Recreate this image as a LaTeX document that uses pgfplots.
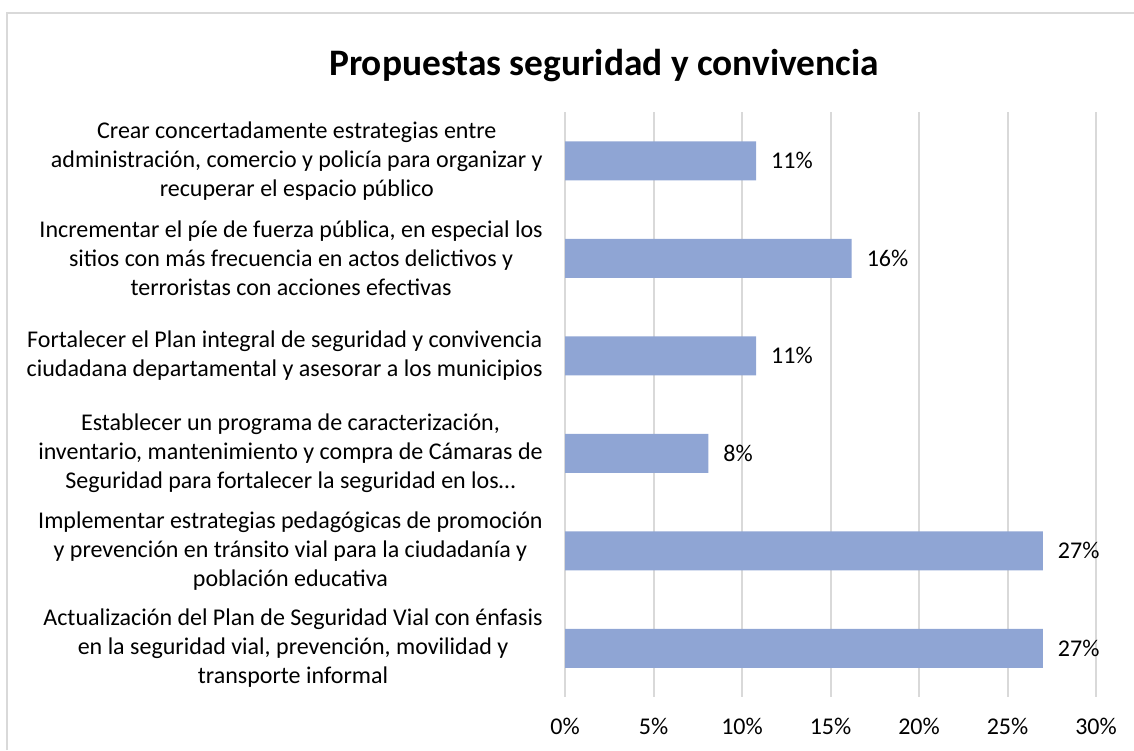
\documentclass[border=0pt]{standalone}
\usepackage{pgfplots}
\pgfplotsset{compat=1.18}
\usepackage{fontspec}
\setmainfont{Carlito}
\definecolor{barc}{RGB}{143,165,212}
\definecolor{gridc}{RGB}{217,217,217}
\begin{document}
\begin{tikzpicture}[x=1pt,y=1pt]
\useasboundingbox (0,0) rectangle (567,375);
\draw[gridc, line width=1pt] (3.5,0) -- (3.5,368.5) -- (567,368.5);
\node[font=\fontsize{18.7}{22}\selectfont\bfseries] at (302,342) {Propuestas seguridad y convivencia};
\begin{axis}[
  at={(282.5pt,26.5pt)}, anchor=south west,
  scale only axis, width=265.5pt, height=292.5pt,
  xbar, bar width=19.5pt,
  xmin=0, xmax=30, ymin=-0.5, ymax=5.5,
  y dir=reverse,
  xtick={0,5,10,15,20,25,30},
  xticklabels={0\%,5\%,10\%,15\%,20\%,25\%,30\%},
  ytick={0,1,2,3,4,5},
  yticklabels={
    {Crear concertadamente estrategias entre\\administración, comercio y policía para organizar y\\recuperar el espacio público},
    {Incrementar el píe de fuerza pública, en especial los\\sitios con más frecuencia en actos delictivos y\\terroristas con acciones efectivas},
    {Fortalecer el Plan integral de seguridad y convivencia\\ciudadana departamental y asesorar a los municipios},
    {Establecer un programa de caracterización,\\inventario, mantenimiento y compra de Cámaras de\\Seguridad para fortalecer la seguridad en los…},
    {Implementar estrategias pedagógicas de promoción\\y prevención en tránsito vial para la ciudadanía y\\población educativa},
    {Actualización del Plan de Seguridad Vial con énfasis\\en la seguridad vial, prevención, movilidad y\\transporte informal}
  },
  yticklabel style={align=center, anchor=east, font=\fontsize{12}{14.5}\selectfont, inner sep=0pt, xshift=-11pt},
  xticklabel style={font=\fontsize{12}{14.5}\selectfont, yshift=-7pt},
  /pgf/number format/assume math mode=true,
  major tick length=0pt,
  axis line style={draw=none},
  xmajorgrids, grid style={gridc, line width=1pt},
  nodes near coords={\pgfmathprintnumber[fixed,precision=0,assume math mode=true]{\pgfplotspointmeta}\%},
  nodes near coords style={font=\fontsize{12}{14.5}\selectfont, anchor=west, xshift=4pt},
  point meta=x,
]
\addplot[fill=barc, draw=none] coordinates {(10.8,0) (16.2,1) (10.8,2) (8.1,3) (27.0,4) (27.0,5)};
\end{axis}
\end{tikzpicture}
\end{document}
